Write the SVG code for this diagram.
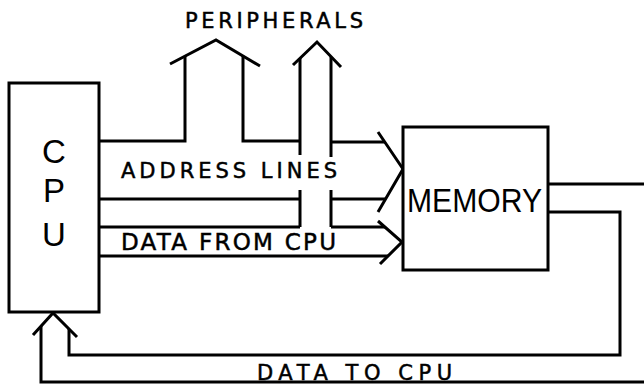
<svg xmlns="http://www.w3.org/2000/svg" width="644" height="384" viewBox="0 0 644 384">
<style>
.box{fill:#fff;stroke:#000;stroke-width:3}
.ln{fill:none;stroke:#000;stroke-width:3;stroke-linejoin:miter}
.t{font-family:"Liberation Sans","DejaVu Sans",sans-serif;fill:#000}
.lb{font-family:"DejaVu Sans","Liberation Sans",sans-serif;fill:#000;stroke:#000;stroke-width:0.5}
</style>
<rect width="644" height="384" fill="#fff"/>
<g id="connectors" class="ln">
<path d="M99,141 H185 V56 M243,56 V141 H300 M300,58 V155 M331,57 V157 M331,142 H385"/>
<path d="M170,64 L216,40 L260,66"/>
<path d="M293,65 L317,42 L341,67"/>
<path d="M99,199 H300 M300,190 V227 M99,227 H300 M331,190 V227 M331,199 H386 M331,227 H385"/>
<path d="M378,132 L403,169 L378,212"/>
<path d="M99,256 H388"/>
<path d="M378,221 L402,242 L380,264"/>
<path d="M548,184 H644 M548,212 H620 V355 H69 V329 M41,326 V382 H644"/>
<path d="M33,335 L53,313 L77,337"/>
</g>
<g id="cpu">
<rect class="box" x="9" y="83" width="90" height="229"/>
<text class="t" x="54" y="163" font-size="33" text-anchor="middle">C</text>
<text class="t" x="54" y="202" font-size="33" text-anchor="middle">P</text>
<text class="t" x="54" y="246" font-size="33" text-anchor="middle">U</text>
</g>
<g id="memory">
<rect class="box" x="403" y="127" width="145" height="143"/>
<text class="t" x="407" y="212" font-size="34" textLength="135" lengthAdjust="spacingAndGlyphs">MEMORY</text>
</g>
<g id="labels">
<text class="lb" x="185" y="28" font-size="21" textLength="178" lengthAdjust="spacing">PERIPHERALS</text>
<text class="lb" x="121" y="178" font-size="21" textLength="216" lengthAdjust="spacing">ADDRESS LINES</text>
<text class="lb" x="121" y="250" font-size="23" textLength="215" lengthAdjust="spacing">DATA FROM CPU</text>
<text class="lb" x="257" y="380" font-size="21" textLength="195" lengthAdjust="spacing">DATA TO CPU</text>
</g>
</svg>
